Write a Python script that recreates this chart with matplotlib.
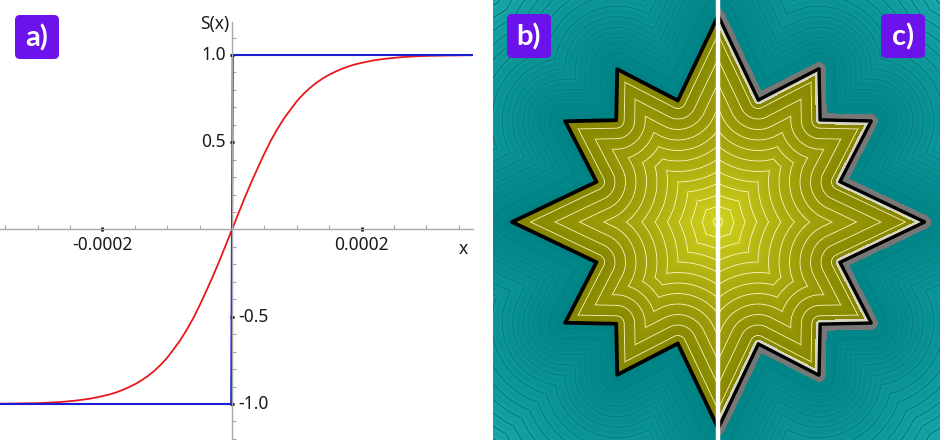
import numpy as np
import matplotlib
matplotlib.use("Agg")
import matplotlib.pyplot as plt
from matplotlib.path import Path
from matplotlib.patches import FancyBboxPatch
from matplotlib.transforms import IdentityTransform


# Panel a) curves, x in units of 1e-4 (red is odd: right half read, mirrored)
red_x_pos = [0.1, 0.2, 0.3, 0.4, 0.5, 0.6, 0.7, 0.8, 0.9, 1.0, 1.1, 1.2,
             1.3, 1.4, 1.5, 1.6, 1.7, 1.8, 1.9, 2.0, 2.2, 2.4, 2.6, 2.8,
             3.0, 3.3, 3.72]
red_y_pos = [0.093, 0.185, 0.272, 0.355, 0.435, 0.51, 0.575, 0.635, 0.685,
             0.735, 0.775, 0.81, 0.84, 0.865, 0.887, 0.905, 0.921, 0.935,
             0.946, 0.955, 0.97, 0.98, 0.987, 0.992, 0.995, 0.997, 0.999]
blue_x = [-3.58, -0.012, 0.012, 3.72]
blue_y = [-1.0, -1.0, 1.0, 1.0]

x_major = [-0.0002, 0.0002]
x_labels = ["-0.0002", "0.0002"]
y_major_left = [1.0, 0.5]
y_major_right = [-0.5, -1.0]

# Panels b) / c): star outline (one quadrant, degrees and pixels)
star_ang = [0.0, 18.3, 33.4, 45.0, 56.6, 71.7]
star_rad = [206, 128, 183, 144, 183, 128]

W, H = 940, 440


def fx(px):
    return px / W


def fy(py):
    return 1 - py / H


def star_polygon():
    verts = []
    for q in range(4):
        for a, r in zip(star_ang, star_rad):
            t = np.radians(a + 90 * q)
            verts.append((r * np.cos(t), -r * np.sin(t)))
    return np.array(verts)


def signed_dist(X, Y, verts):
    d = np.full(X.shape, np.inf)
    n = len(verts)
    for i in range(n):
        a = verts[i]
        b = verts[(i + 1) % n]
        bax, bay = b - a
        pax, pay = X - a[0], Y - a[1]
        h = np.clip((pax * bax + pay * bay) / (bax * bax + bay * bay), 0, 1)
        d = np.minimum(d, np.hypot(pax - bax * h, pay - bay * h))
    pts = np.column_stack([X.ravel(), Y.ravel()])
    inside = Path(verts).contains_points(pts).reshape(X.shape)
    return np.where(inside, -d, d)


def contour_line(sd, period, phase, width):
    frac = np.abs(((sd + phase) / period + 0.5) % 1 - 0.5) * period
    return np.clip(1 - frac / width, 0, 1)


def shade(sd, right_half):
    # outside: teal
    t_out = np.clip(sd / 230, 0, 1)[..., None]
    near = np.array([0.0, 0.53, 0.54])
    far = np.array([0.16, 0.77, 0.78])
    col_out = near + t_out * (far - near)
    band = 0.5 + 0.5 * np.cos(2 * np.pi * sd / 10.5)
    col_out = col_out * (0.95 + 0.05 * band)[..., None]
    ln = contour_line(sd, 10.5, 0, 0.9)[..., None]
    col_out = col_out * (1 - (0.05 + 0.6 * t_out) * ln)

    # inside: olive / yellow
    t_in = np.clip(-sd / 125, 0, 1)[..., None]
    edge = np.array([0.52, 0.52, 0.0])
    centre = np.array([0.82, 0.82, 0.12])
    col_in = edge + t_in * (centre - edge)
    ln = contour_line(sd, 10.5, 8, 0.9)[..., None] * (sd < -4)[..., None]
    col_in = col_in + ln * 0.85 * (np.array([1.0, 1.0, 0.8]) - col_in)

    col = np.where((sd > 0)[..., None], col_out, col_in)

    if right_half:
        grey = ((sd > 1.2) & (sd < 7.0))[..., None]
        col = np.where(grey, np.array([0.47, 0.47, 0.47]), col)
        light = ((sd < -1.0) & (sd > -4.0))[..., None]
        col = np.where(light, np.array([0.84, 0.84, 0.76]), col)
        k = np.clip(2.2 - np.abs(sd - 0.3), 0, 1)[..., None]
    else:
        k = np.clip(2.4 - np.abs(sd), 0, 1)[..., None]
    return col * (1 - k)


def draw_curves(fig):
    ax = fig.add_axes([0, 0, fx(473), 1])
    xs = 1.5444e-6
    ax.set_xlim(-232 * xs, 241 * xs)
    ax.set_ylim(-(440 - 229.5) / 174.5, 229.5 / 174.5)

    rx = np.array([-v for v in red_x_pos[::-1]] + [0.0] + red_x_pos) * 1e-4
    ry = [-v for v in red_y_pos[::-1]] + [0.0] + red_y_pos
    ax.plot(rx, ry, color="#e8181c", lw=1.3, solid_joinstyle="round")
    ax.plot(np.array(blue_x) * 1e-4, blue_y, color="#1c1cd2", lw=1.5)

    for s in ["top", "right"]:
        ax.spines[s].set_visible(False)
    ax.spines["left"].set_position(("data", 0))
    ax.spines["bottom"].set_position(("data", 0))
    ax.spines["left"].set_bounds(-1.3, 1.19)
    for s in ["left", "bottom"]:
        ax.spines[s].set_color("#a8a8a8")
        ax.spines[s].set_linewidth(1.0)

    ax.set_xticks(x_major)
    ax.set_xticks(np.arange(-7, 8) * 0.00005, minor=True)
    ax.set_yticks(y_major_left + y_major_right)
    ax.set_yticks(np.arange(-12, 12) * 0.1, minor=True)
    ax.set_xticklabels([])
    ax.set_yticklabels([])
    ax.tick_params(which="major", direction="inout", length=2.5, width=2,
                   color="black")
    ax.tick_params(which="minor", direction="in", length=3, width=0.8,
                   color="#a8a8a8")

    font = dict(family="Noto Sans", fontsize=12.5, color="#1a1a1a")
    for v, lab in zip(x_major, x_labels):
        ax.text(v, -0.035, lab, ha="center", va="top", **font)
    for v in y_major_left:
        ax.text(-6 * xs, v, f"{v:.1f}", ha="right", va="center", **font)
    for v in y_major_right:
        ax.text(6 * xs, v, f"{v:.1f}", ha="left", va="center", **font)
    ax.text(-3 * xs, (229.5 - 24) / 174.5, "S(x)", ha="right", va="center",
            **font)
    ax.text(231 * xs, -(249 - 229.5) / 174.5, "x", ha="center",
            va="center", **font)


def draw_star(fig):
    ax = fig.add_axes([fx(493), 0, fx(940) - fx(493), 1])
    cx, cy = 718, 222
    xs = np.arange(493, 940) + 0.5 - cx
    ys = np.arange(0, 440) + 0.5 - cy
    X, Y = np.meshgrid(xs, ys)
    sd = signed_dist(X, Y, star_polygon())
    img = np.where((X < 0)[..., None], shade(sd, False), shade(sd, True))
    ax.imshow(np.clip(img, 0, 1), extent=[493 - cx, 940 - cx, 440 - cy, -cy],
              interpolation="bilinear")
    ax.axvline(0, color="white", lw=3.2)
    ax.set_xlim(493 - cx, 940 - cx)
    ax.set_ylim(440 - cy, -cy)
    ax.axis("off")


def add_tag(fig, x0, y0, text):
    box = FancyBboxPatch((x0, H - y0 - 44), 44, 44,
                         boxstyle="round,pad=0,rounding_size=5",
                         transform=IdentityTransform(), fc="#6c12ea",
                         ec="none", zorder=10)
    fig.add_artist(box)
    fig.text(fx(x0 + 22), fy(y0 + 23), text, ha="center", va="center",
             color="white", fontsize=21, fontweight="bold",
             family="Lato", zorder=11)


def main():
    fig = plt.figure(figsize=(9.4, 4.4), dpi=100)
    draw_curves(fig)
    draw_star(fig)
    add_tag(fig, 15, 15, "a)")
    add_tag(fig, 507, 14, "b)")
    add_tag(fig, 881, 14, "c)")
    fig.savefig("out.png", dpi=100)


if __name__ == "__main__":
    main()
